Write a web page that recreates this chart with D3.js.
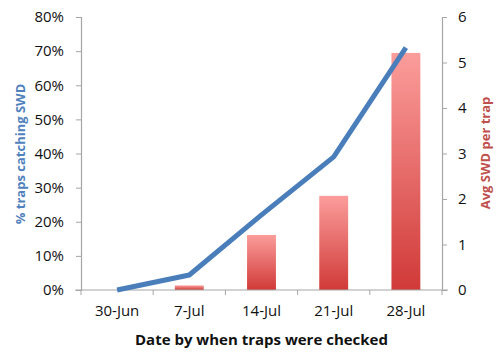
<!DOCTYPE html>
<html>
<head>
  <meta charset="utf-8">
  <title>SWD traps</title>
  <style>
  body { margin: 0; background: #fff; }
  svg text { font-family: "Open Sans", "Liberation Sans", sans-serif; }
  </style>
</head>
<body>
  <div id="viz"></div>
  <script src="https://d3js.org/d3.v7.min.js"></script>
  <script>
    // data
    let dates = ["30-Jun", "7-Jul", "14-Jul", "21-Jul", "28-Jul"];
    let pctTraps = [0, 0.044, 0.22, 0.39, 0.71];
    let avgSwd = [0, 0.1, 1.21, 2.07, 5.21];
    let leftTicks = [0, 0.1, 0.2, 0.3, 0.4, 0.5, 0.6, 0.7, 0.8];
    let rightTicks = [0, 1, 2, 3, 4, 5, 6];

    let svgWidth = 500, svgHeight = 358;
    let margin = {top: 17, right: 58, bottom: 68, left: 81};
    let width = svgWidth - margin.left - margin.right;
    let height = svgHeight - margin.top - margin.bottom;

    let svg = d3.select("#viz").append("svg")
      .attr("width", svgWidth)
      .attr("height", svgHeight);

    // bar gradient
    let grad = svg.append("defs").append("linearGradient")
      .attr("id", "barGrad")
      .attr("x1", 0).attr("y1", 0).attr("x2", 0).attr("y2", 1);
    grad.append("stop").attr("offset", "0%").attr("stop-color", "#fb9d9b");
    grad.append("stop").attr("offset", "100%").attr("stop-color", "#d03a38");

    let g = svg.append("g").attr("transform", `translate(${margin.left},${margin.top})`);

    let x = d3.scaleBand().domain(dates).range([0, width]).padding(0);
    let yL = d3.scaleLinear().domain([0, 0.8]).range([height, 0]);
    let yR = d3.scaleLinear().domain([0, 6]).range([height, 0]);

    // bars
    let bw = x.bandwidth() * 0.4;
    g.selectAll(".bar").data(dates).enter().append("rect")
      .attr("class", "bar")
      .attr("x", (d) => x(d) + (x.bandwidth() - bw) / 2)
      .attr("width", bw)
      .attr("y", (d, i) => yR(avgSwd[i]))
      .attr("height", (d, i) => height - yR(avgSwd[i]))
      .attr("fill", "url(#barGrad)");

    // axes
    let axisColor = "#a6a6a6";
    let fs = "15px";

    let gL = g.append("g")
      .call(d3.axisLeft(yL).tickValues(leftTicks).tickFormat(d3.format(".0%")).tickSize(5).tickPadding(12));
    let gR = g.append("g").attr("transform", `translate(${width},0)`)
      .call(d3.axisRight(yR).tickValues(rightTicks).tickFormat(d3.format("d")).tickSize(5).tickPadding(11));
    let gX = g.append("g").attr("transform", `translate(0,${height})`)
      .call(d3.axisBottom(x).tickSize(0).tickPadding(15));

    // x tick marks at band boundaries
    let bounds = dates.map((d) => x(d)).concat([width]);
    gX.selectAll(".bound").data(bounds).enter().append("line")
      .attr("class", "bound")
      .attr("x1", (d) => d).attr("x2", (d) => d)
      .attr("y1", 0).attr("y2", 5)
      .attr("stroke", axisColor);

    [gL, gR, gX].forEach((a) => {
      a.selectAll("path").attr("stroke", axisColor).attr("stroke-width", 1.2);
      a.selectAll(".tick line").attr("stroke", axisColor);
      a.selectAll("text").attr("fill", "#111").style("font-size", fs);
    });
    gX.select(".domain").attr("d", `M-6,0H${width + 6}`);

    // line
    let line = d3.line()
      .x((d, i) => x(dates[i]) + x.bandwidth() / 2)
      .y((d) => yL(d));
    g.append("path")
      .datum(pctTraps)
      .attr("d", line)
      .attr("fill", "none")
      .attr("stroke", "#4a7ebb")
      .attr("stroke-width", 5)
      .attr("stroke-linejoin", "round");

    // axis titles
    svg.append("text")
      .attr("transform", `translate(25,154) rotate(-90)`)
      .attr("text-anchor", "middle")
      .attr("fill", "#4f81bd")
      .style("font-size", "13px").style("font-weight", "bold")
      .text("% traps catching SWD");
    svg.append("text")
      .attr("transform", `translate(490,153) rotate(-90)`)
      .attr("text-anchor", "middle")
      .attr("fill", "#c0504d")
      .style("font-size", "13px").style("font-weight", "bold")
      .text("Avg SWD per trap");
    svg.append("text")
      .attr("x", margin.left + width / 2)
      .attr("y", 345)
      .attr("text-anchor", "middle")
      .attr("fill", "#111")
      .style("font-size", "15px").style("font-weight", "bold")
      .text("Date by when traps were checked");
  </script>
</body>
</html>
